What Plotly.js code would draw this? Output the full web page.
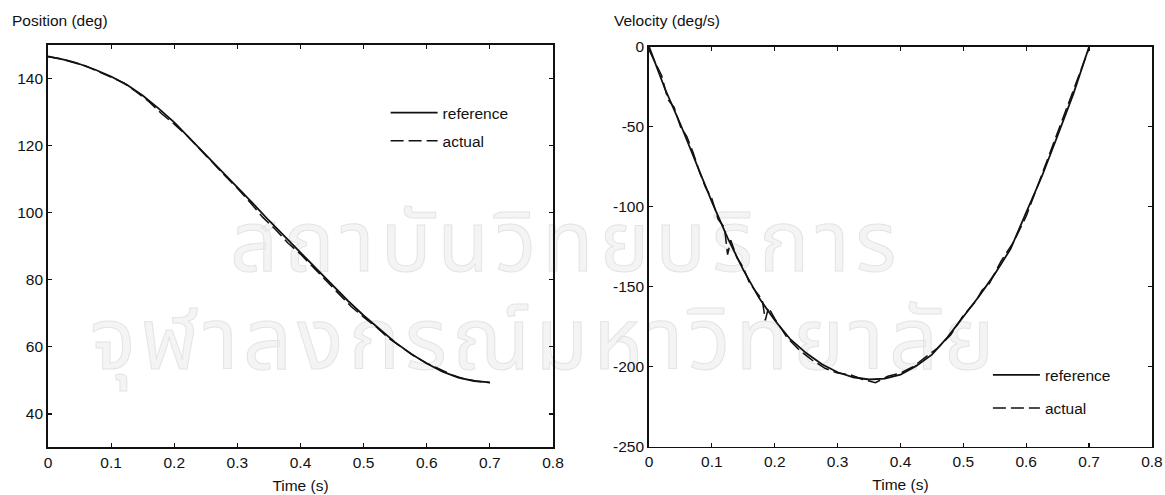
<!DOCTYPE html>
<html>
<head>
<meta charset="utf-8">
<script src="https://cdn.plot.ly/plotly-3.0.1.min.js"></script>
<style>
  html, body { margin: 0; padding: 0; background: #ffffff; }
  #wrap { position: relative; width: 1165px; height: 495px; overflow: hidden; }
  #wm { position: absolute; left: 0; top: 0; width: 1165px; height: 495px; z-index: 0; pointer-events: none; }
  .wmline { position: absolute; white-space: nowrap; line-height: 0.75; color: #f4f4f4; -webkit-text-stroke: 1px #e4e4e4; font-family: "Noto Sans Thai", "Noto Sans", "DejaVu Sans", sans-serif; }
  #chart { position: absolute; left: 0; top: 0; width: 1165px; height: 495px; z-index: 1; }
</style>
</head>
<body>
<div id="wrap">
  <div id="wm">
    <div class="wmline" style="left:230px; top:214px; font-size:84px; letter-spacing:6px;">สถาบันวิทยบริการ</div>
    <div class="wmline" style="left:90px; top:311px; font-size:86px; letter-spacing:5px;">จุฬาลงกรณ์มหาวิทยาลัย</div>
  </div>
  <div id="chart"></div>
</div>
<script>
// ---- Position (deg): reference ----
const posTime = [0, 0.025, 0.05, 0.075, 0.1, 0.125, 0.15, 0.175, 0.2, 0.225, 0.25, 0.275, 0.3, 0.325, 0.35, 0.375, 0.4, 0.425, 0.45, 0.475, 0.5, 0.525, 0.55, 0.575, 0.6, 0.625, 0.65, 0.675, 0.7];
const posReference = [146.5, 145.5, 144.2, 142.5, 140.5, 138.0, 134.8, 131.0, 126.8, 122.0, 117.0, 112.3, 107.5, 102.6, 97.6, 92.8, 88.3, 83.3, 78.5, 73.7, 69.3, 65.2, 61.3, 57.9, 55.0, 52.6, 50.8, 49.8, 49.4];
// ---- Position (deg): actual ----
const posActualTime = [0, 0.02, 0.04, 0.06, 0.08, 0.1, 0.12, 0.14, 0.16, 0.18, 0.2, 0.22, 0.24, 0.26, 0.28, 0.3, 0.32, 0.34, 0.36, 0.38, 0.4, 0.42, 0.44, 0.46, 0.48, 0.5, 0.52, 0.54, 0.56, 0.58, 0.6, 0.62, 0.64, 0.66, 0.68, 0.7];
const posActual = [146.4, 145.8, 144.8, 143.6, 141.9, 140.2, 138.6, 135.9, 133.0, 129.4, 126.3, 122.9, 118.8, 115.0, 111.0, 107.2, 103.0, 98.6, 95.0, 90.9, 87.6, 83.7, 79.6, 76.0, 72.0, 68.8, 65.9, 62.5, 59.8, 57.2, 55.1, 53.3, 51.6, 50.4, 49.7, 49.3];

// ---- Velocity (deg/s): reference ----
const velTime = [0, 0.025, 0.05, 0.075, 0.1, 0.125, 0.15, 0.175, 0.2, 0.225, 0.25, 0.275, 0.3, 0.325, 0.35, 0.375, 0.4, 0.425, 0.45, 0.475, 0.5, 0.525, 0.55, 0.575, 0.6, 0.625, 0.65, 0.675, 0.7];
const velReference = [0, -26, -48.5, -73, -97, -119.5, -139.5, -157, -171, -183, -191.5, -198.5, -203.5, -206.6, -208, -207.5, -205, -199.5, -192.5, -181.5, -169, -156, -142, -126.5, -103.5, -81, -55.5, -29.5, 0];
// ---- Velocity (deg/s): actual ----
const velActualTime = [0, 0.01, 0.02, 0.03, 0.04, 0.05, 0.06, 0.07, 0.08, 0.09, 0.1, 0.11, 0.12, 0.125, 0.13, 0.14, 0.15, 0.16, 0.17, 0.18, 0.185, 0.19, 0.2, 0.21, 0.22, 0.24, 0.26, 0.28, 0.3, 0.32, 0.34, 0.36, 0.38, 0.4, 0.42, 0.44, 0.46, 0.48, 0.5, 0.52, 0.53, 0.54, 0.56, 0.58, 0.6, 0.62, 0.64, 0.66, 0.68, 0.7];
const velActual = [-2, -10, -18, -33, -38, -50, -56, -66, -78, -88, -95, -108, -113, -130, -121, -132, -138, -148, -153, -158, -171, -163, -170, -176, -182, -190, -196, -201, -204, -205, -208, -210, -206, -204, -200, -194, -188, -180, -168, -159, -152, -149, -134, -122, -106, -85, -64, -44, -23, -1];

// ---- axis ticks ----
const timeTicks = [0, 0.1, 0.2, 0.3, 0.4, 0.5, 0.6, 0.7, 0.8];
const timeTickText = ['0', '0.1', '0.2', '0.3', '0.4', '0.5', '0.6', '0.7', '0.8'];
const posTicks = [40, 60, 80, 100, 120, 140];
const posTickText = ['40', '60', '80', '100', '120', '140'];
const velTicks = [-250, -200, -150, -100, -50, 0];
const velTickText = ['-250', '-200', '-150', '-100', '-50', '0'];

const FONT = 'Liberation Sans, Arial, sans-serif';
const FS = 15.5;
const solid = {color: '#111111', width: 1.8};
const dashed = {color: '#111111', width: 1.5, dash: '13px,5px'};

const traces = [
  {x: posTime, y: posReference, xaxis: 'x', yaxis: 'y', mode: 'lines', name: 'reference', line: solid, legend: 'legend', legendgroup: 'a'},
  {x: posActualTime, y: posActual, xaxis: 'x', yaxis: 'y', mode: 'lines', name: 'actual', line: dashed, legend: 'legend', legendgroup: 'b'},
  {x: velTime, y: velReference, xaxis: 'x2', yaxis: 'y2', mode: 'lines', name: 'reference', line: solid, legend: 'legend2', legendgroup: 'c'},
  {x: velActualTime, y: velActual, xaxis: 'x2', yaxis: 'y2', mode: 'lines', name: 'actual', line: dashed, legend: 'legend2', legendgroup: 'd'}
];

function xAxis(domain, anchor) {
  return {
    domain: domain, anchor: anchor, range: [0, 0.8], tickvals: timeTicks, ticktext: timeTickText,
    ticks: 'inside', ticklen: 4, tickwidth: 1.2, tickcolor: '#111', mirror: 'ticks',
    showline: true, linecolor: '#111', linewidth: 1.8, showgrid: false, zeroline: false,
    tickfont: {family: FONT, size: FS, color: '#111'},
    title: {text: 'Time (s)', font: {family: FONT, size: FS, color: '#111'}, standoff: 10},
    automargin: false
  };
}
function yAxis(domain, anchor, range, tv, tt) {
  return {
    domain: domain, anchor: anchor, range: range, tickvals: tv, ticktext: tt,
    ticks: 'inside', ticklen: 4, tickwidth: 1.2, tickcolor: '#111', mirror: 'ticks',
    showline: true, linecolor: '#111', linewidth: 1.8, showgrid: false, zeroline: false,
    tickfont: {family: FONT, size: FS, color: '#111'}, automargin: false
  };
}

const layout = {
  width: 1165, height: 495,
  margin: {l: 0, r: 0, t: 0, b: 0},
  paper_bgcolor: 'rgba(0,0,0,0)', plot_bgcolor: 'rgba(0,0,0,0)',
  showlegend: true,
  xaxis: xAxis([0.0412, 0.4747], 'y'),
  yaxis: yAxis([0.096, 0.910], 'x', [30, 150], posTicks, posTickText),
  xaxis2: xAxis([0.5571, 0.9888], 'y2'),
  yaxis2: yAxis([0.0976, 0.9057], 'x2', [-250, 0], velTicks, velTickText),
  legend: {x: 0.331, y: 0.806, xanchor: 'left', yanchor: 'top', bgcolor: 'rgba(0,0,0,0)', borderwidth: 0,
           font: {family: FONT, size: FS, color: '#111'}, itemwidth: 47, tracegroupgap: 5, traceorder: 'grouped'},
  legend2: {x: 0.848, y: 0.276, xanchor: 'left', yanchor: 'top', bgcolor: 'rgba(0,0,0,0)', borderwidth: 0,
           font: {family: FONT, size: FS, color: '#111'}, itemwidth: 47, tracegroupgap: 10, traceorder: 'grouped'},
  annotations: [
    {text: 'Position (deg)', xref: 'paper', yref: 'paper', x: 10 / 1165, y: 1 - 20 / 495, xanchor: 'left', yanchor: 'middle', showarrow: false, font: {family: FONT, size: FS, color: '#111'}},
    {text: 'Velocity (deg/s)', xref: 'paper', yref: 'paper', x: 612 / 1165, y: 1 - 20 / 495, xanchor: 'left', yanchor: 'middle', showarrow: false, font: {family: FONT, size: FS, color: '#111'}}
  ]
};

Plotly.newPlot('chart', traces, layout, {staticPlot: true, displayModeBar: false});
</script>
</body>
</html>
